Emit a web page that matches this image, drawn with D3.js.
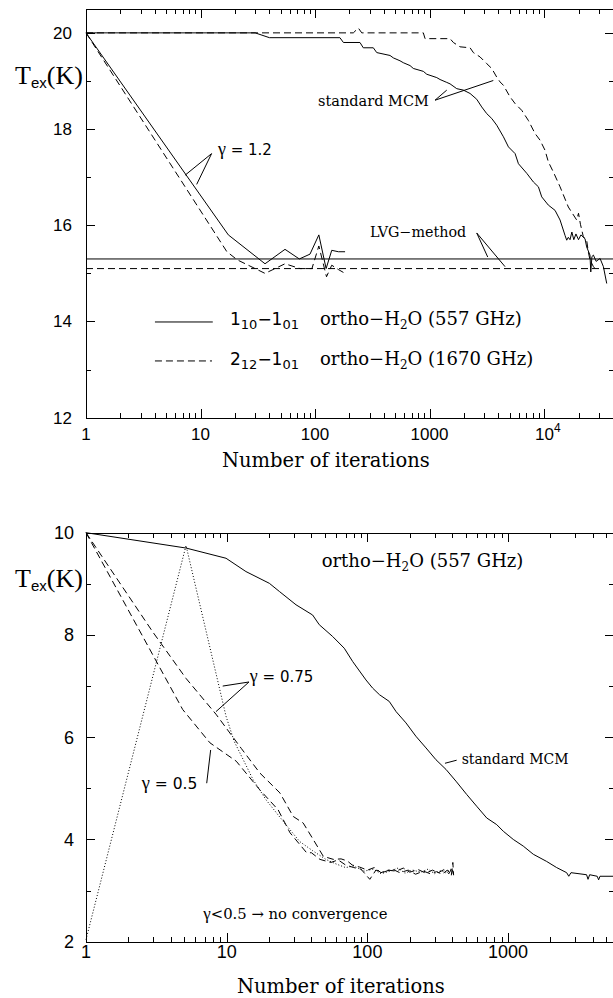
<!DOCTYPE html>
<html><head><meta charset="utf-8">
<script src="https://cdn.jsdelivr.net/npm/d3@7"></script>
<style>body{margin:0;background:#fff}svg{display:block}</style>
</head><body>
<svg id="c" width="613" height="998"></svg>
<script>
// ---------------- DATA (top panel) ----------------
const topXTicks = [1, 10, 100, 1000, 10000];
const topXLabels = ["1", "10", "100", "1000", "10^4"];
const topYTicks = [12, 14, 16, 18, 20];
const topYMinor = [13, 15, 17, 19];

// gamma = 1.2, 1_10-1_01 (557 GHz), solid
const top557Gamma = [[1,20],[17.5,15.8],[36.6,15.2],[54.7,15.5],[72.9,15.3],[90.4,15.4],[108,15.8],[125,15.1],[140,15.48],[160,15.45],[183,15.45]];
// gamma = 1.2, 2_12-1_01 (1670 GHz), dashed
const top1670Gamma = [[1,20],[17,15.45],[21,15.28],[36.6,15.0],[54.7,15.2],[74,15.1],[94,15.1],[108,15.57],[126,14.93],[140,15.17],[160,15.08],[183,15.0]];
// standard MCM, 557 GHz, solid
const top557MCM = [[1,20],[30,20],[40,19.9],[165,19.9],[177,19.8],[247,19.8],[264,19.69],[323,19.69],[346,19.59],[452,19.53],[483,19.48],[552,19.42],[590,19.38],[676,19.32],[722,19.26],[883,19.2],[946,19.14],[1157,19.07],[1236,19.03],[1414,18.97],[1511,18.94],[1728,18.84],[1976,18.81],[2260,18.74],[2584,18.62],[2856,18.46],[3162,18.32],[3495,18.22],[3864,18.08],[4419,17.84],[4887,17.63],[5589,17.49],[5976,17.28],[7068,17.08],[8075,16.9],[8930,16.8],[9550,16.59],[10900,16.42],[12480,16.31],[13800,16.11],[15250,15.79],[15780,15.69],[16300,15.75],[16870,15.7],[17500,15.86],[18200,15.7],[19000,15.82],[20000,15.7],[21000,15.8],[22800,15.72],[23570,15.55],[25200,15.38],[25600,15.03],[26200,15.35],[27000,15.38],[28500,15.25],[30860,15.31],[33000,15.14],[35280,14.79]];
// standard MCM, 1670 GHz, dashed
const top1670MCM = [[1,20],[216,20],[239,20.1],[256,20],[883,20],[914,19.88],[1511,19.88],[1615,19.8],[1846,19.71],[2260,19.69],[2415,19.59],[2762,19.5],[3162,19.36],[3495,19.26],[3864,19.08],[4130,18.98],[4419,18.91],[5047,18.67],[5589,18.53],[6383,18.39],[7296,18.18],[8337,17.91],[9225,17.77],[10200,17.56],[10900,17.32],[12050,17.11],[13800,16.8],[16300,16.38],[19280,16.11],[20000,16.25],[20800,16.02],[22050,15.76],[23570,15.69],[24350,15.45],[25200,15.28],[27000,15.14],[29000,15.05]];
// LVG-method levels
const lvg557 = 15.3;
const lvg1670 = 15.1;

// ---------------- DATA (bottom panel) ----------------
const botXTicks = [1, 10, 100, 1000];
const botXLabels = ["1", "10", "100", "1000"];
const botYTicks = [2, 4, 6, 8, 10];
const botYMinor = [3, 5, 7, 9];

const botMCM = [[1,10],[5.14,9.7],[9.89,9.5],[13.7,9.24],[20.1,9.01],[23.7,8.85],[31.1,8.59],[40.8,8.39],[45.5,8.2],[56.6,7.97],[68.5,7.74],[78.6,7.48],[97.7,7.12],[109,6.96],[122,6.83],[143,6.7],[160,6.5],[188,6.28],[221,6.02],[261,5.79],[307,5.56],[362,5.37],[426,5.14],[508,4.88],[598,4.65],[705,4.42],[830,4.29],[925,4.16],[1089,4.0],[1282,3.87],[1511,3.71],[1879,3.57],[2214,3.45],[2608,3.35],[2700,3.28],[2800,3.35],[3614,3.31],[3700,3.22],[3800,3.31],[4300,3.28],[4400,3.21],[4500,3.28],[5660,3.28]];
const botGamma05 = [[1,10],[4.87,6.54],[7.6,5.89],[11.7,5.53],[17.2,4.97],[23.2,4.58],[28.2,4.13],[37,3.74],[40,3.74],[46,3.61],[55,3.55],[62,3.6],[70,3.5],[80,3.45],[90,3.42],[104,3.22],[115,3.4],[130,3.36],[150,3.42],[170,3.35],[195,3.4],[220,3.32],[250,3.38],[280,3.33],[310,3.37],[340,3.32],[370,3.4],[395,3.3],[405,3.55],[410,3.3]];
const botGamma075 = [[1,10],[2.98,8.06],[5.14,7.15],[8.39,6.45],[12.7,5.78],[17.2,5.3],[23.9,4.91],[29.7,4.45],[35,4.32],[41.2,4.0],[48.6,3.67],[57.3,3.61],[65,3.62],[72,3.58],[78,3.5],[88,3.46],[100,3.4],[112,3.45],[125,3.35],[140,3.4],[160,3.38],[180,3.44],[200,3.36],[230,3.41],[260,3.34],[290,3.4],[320,3.35],[350,3.41],[380,3.33],[400,3.45],[408,3.32]];
const botDotted = [[1,2.04],[5.14,9.75],[9.89,6.41],[11.3,5.92],[15.4,5.17],[19.1,4.77],[25.8,4.32],[33,3.96],[40.8,3.78],[50.7,3.61],[60,3.52],[70,3.45],[80,3.48],[95,3.38],[110,3.42],[125,3.33],[145,3.38],[165,3.44],[185,3.34],[210,3.4],[240,3.36],[270,3.42],[300,3.33],[330,3.39],[360,3.35],[390,3.42],[410,3.36]];

// ---------------- DRAWING ----------------
const svg = d3.select("#c");
svg.append("rect").attr("width", 613).attr("height", 998).attr("fill", "#fff");

const SANS = "'Liberation Sans', Arial, sans-serif";
const DSANS = "'DejaVu Sans', sans-serif";
const SERIF = "'DejaVu Serif', serif";
const TIMES = "'Liberation Serif', 'Times New Roman', serif";

function rich(sel, x, y, parts, base) {
  const t = sel.append("text").attr("x", x).attr("y", y)
    .attr("font-family", base.family).attr("font-size", base.size).attr("fill", "#000");
  let cur = 0;
  parts.forEach(p => {
    const off = p.shift || 0;
    const ts = t.append("tspan").text(p.t).attr("dy", off - cur);
    if (p.family) ts.attr("font-family", p.family);
    if (p.size) ts.attr("font-size", p.size);
    if (p.dx) ts.attr("dx", p.dx);
    cur = off;
  });
  return t;
}

function minorLog(scale, majors) {
  const [d0, d1] = scale.domain();
  const out = [];
  majors.concat([majors[majors.length-1]*10]).forEach(m => {
    for (let k = 2; k <= 9; k++) { const v = m * k; if (v > d0 && v < d1) out.push(v); }
  });
  return out;
}

function frame(g, x, y, xMaj, yMaj, yMin) {
  const [x0, x1] = x.range();
  const [yb, yt] = y.range();
  const xMin = minorLog(x, xMaj);
  const setup = a => a.tickSizeOuter(0).tickFormat("");
  const axes = [
    [d3.axisBottom(x), `translate(0,${yb})`, xMaj, xMin],
    [d3.axisTop(x), `translate(0,${yt})`, xMaj, xMin],
    [d3.axisLeft(y), `translate(${x0},0)`, yMaj, yMin],
    [d3.axisRight(y), `translate(${x1},0)`, yMaj, yMin]
  ];
  axes.forEach(([ax, tr, maj, mn]) => {
    const gg = g.append("g").attr("transform", tr);
    gg.call(setup(ax.tickValues(maj).tickSize(-9)));
    gg.append("g").call(setup(ax.tickValues(mn).tickSize(-5))).select(".domain").remove();
    gg.selectAll("path,line").attr("stroke", "#000").attr("stroke-width", 1).attr("shape-rendering", "crispEdges");
  });
}

function series(g, x, y, data, dash) {
  const line = d3.line().x(d => x(d[0])).y(d => y(d[1]));
  g.append("path").attr("d", line(data)).attr("fill", "none")
    .attr("stroke", "#000").attr("stroke-width", 1)
    .attr("stroke-dasharray", dash || null);
}

function pointer(g, x, y, pts) {
  series(g, x, y, pts, null);
}

function gammaLabel(g, px, py, rest, size) {
  rich(g, px, py, [{t: "γ", family: TIMES, size: size + 3}, {t: rest}], {family: DSANS, size: size});
}

const DASH = "7,4";
const DOT = "1,2";

// ---------- TOP PANEL ----------
const xT = d3.scaleLog().domain([1, 41000]).range([86, 614.2]);
const yT = d3.scaleLinear().domain([12, 20.49]).range([417.7, 9.3]);
const gT = svg.append("g");
frame(gT, xT, yT, topXTicks, topYTicks, topYMinor);

// LVG lines
series(gT, xT, yT, [[1, lvg557], [41000, lvg557]]);
series(gT, xT, yT, [[1, lvg1670], [41000, lvg1670]], DASH);
series(gT, xT, yT, top557Gamma);
series(gT, xT, yT, top1670Gamma, DASH);
series(gT, xT, yT, top557MCM);
series(gT, xT, yT, top1670MCM, DASH);

// y tick labels
topYTicks.forEach(v => gT.append("text").attr("x", 72).attr("y", yT(v) + 6)
  .attr("text-anchor", "end").attr("font-family", SANS).attr("font-size", 17).text(v));
// x tick labels
topXTicks.forEach((v, i) => {
  const lab = topXLabels[i];
  if (lab.includes("^")) {
    const [b, e] = lab.split("^");
    rich(gT, xT(v) - 9, 440, [{t: b}, {t: e, size: 12, shift: -8}], {family: SANS, size: 17});
  } else {
    gT.append("text").attr("x", xT(v)).attr("y", 440).attr("text-anchor", "middle")
      .attr("font-family", SANS).attr("font-size", 17).text(lab);
  }
});
gT.append("text").attr("x", 222).attr("y", 467).attr("font-family", SERIF).attr("font-size", 19.5).text("Number of iterations");
rich(gT, 15, 83.5, [{t: "T"}, {t: "ex", family: SANS, size: 15, shift: 4}, {t: "(K)"}], {family: TIMES, size: 26});

// annotations (data coordinates)
gammaLabel(gT, xT(14.2), yT(17.46), " = 1.2", 15);
pointer(gT, xT, yT, [[7.32, 17.04], [12.5, 17.49], [9.26, 16.85]]);
gT.append("text").attr("x", xT(106.3)).attr("y", yT(18.49)).attr("font-family", SERIF).attr("font-size", 14.5).text("standard MCM");
pointer(gT, xT, yT, [[1414, 18.81], [1117, 18.6], [3606, 19.01]]);
gT.append("text").attr("x", xT(302)).attr("y", yT(15.76)).attr("font-family", SERIF).attr("font-size", 14.3).text("LVG−method");
pointer(gT, xT, yT, [[3223, 15.34], [2584, 15.84], [4565, 15.14]]);
// legend
series(gT, xT, yT, [[4.0, 13.99], [12.8, 13.99]]);
series(gT, xT, yT, [[4.0, 13.18], [12.6, 13.18]], DASH);
rich(gT, xT(18.1), yT(13.92), [{t: "1"}, {t: "10", size: 13, shift: 4}, {t: "−1"}, {t: "01", size: 13, shift: 4}], {family: DSANS, size: 17});
rich(gT, xT(18.1), yT(13.1), [{t: "2"}, {t: "12", size: 13, shift: 4}, {t: "−1"}, {t: "01", size: 13, shift: 4}], {family: DSANS, size: 17});
rich(gT, xT(110.6), yT(13.92), [{t: "ortho−H"}, {t: "2", size: 12, shift: 4}, {t: "O (557 GHz)"}], {family: SERIF, size: 18});
rich(gT, xT(110.6), yT(13.1), [{t: "ortho−H"}, {t: "2", size: 12, shift: 4}, {t: "O (1670 GHz)"}], {family: SERIF, size: 18});

// ---------- BOTTOM PANEL ----------
const xB = d3.scaleLog().domain([1, 5660]).range([86, 614]);
const yB = d3.scaleLinear().domain([2, 10]).range([941.7, 532.7]);
const gB = svg.append("g");
frame(gB, xB, yB, botXTicks, botYTicks, botYMinor);
series(gB, xB, yB, botMCM);
series(gB, xB, yB, botGamma05, DASH);
series(gB, xB, yB, botGamma075, DASH);
series(gB, xB, yB, botDotted, DOT);

botYTicks.forEach(v => gB.append("text").attr("x", 74).attr("y", yB(v) + 6.5)
  .attr("text-anchor", "end").attr("font-family", SANS).attr("font-size", 18).text(v));
botXTicks.forEach((v, i) => gB.append("text").attr("x", xB(v)).attr("y", 958)
  .attr("text-anchor", "middle").attr("font-family", SANS).attr("font-size", 18).text(botXLabels[i]));
gB.append("text").attr("x", 237).attr("y", 993).attr("font-family", SERIF).attr("font-size", 19.5).text("Number of iterations");
rich(gB, 15, 586.7, [{t: "T"}, {t: "ex", family: SANS, size: 15, shift: 4}, {t: "(K)"}], {family: TIMES, size: 26});

rich(gB, xB(47.3), yB(9.33), [{t: "ortho−H"}, {t: "2", size: 12, shift: 4}, {t: "O (557 GHz)"}], {family: SERIF, size: 18});
gammaLabel(gB, xB(14.6), yB(7.07), " = 0.75", 15);
pointer(gB, xB, yB, [[9.37, 7.0], [14.4, 7.08], [8.39, 6.5]]);
gammaLabel(gB, xB(2.49), yB(4.99), " = 0.5", 15.5);
pointer(gB, xB, yB, [[7.21, 5.1], [7.69, 5.75]]);
gB.append("text").attr("x", xB(468)).attr("y", yB(5.48)).attr("font-family", SERIF).attr("font-size", 14).text("standard MCM");
pointer(gB, xB, yB, [[431, 5.55], [356, 5.49]]);
rich(gB, xB(6.82), yB(2.45), [{t: "γ", family: TIMES, size: 17}, {t: "<0.5 → no convergence"}], {family: SERIF, size: 14.8});
</script>
</body></html>
